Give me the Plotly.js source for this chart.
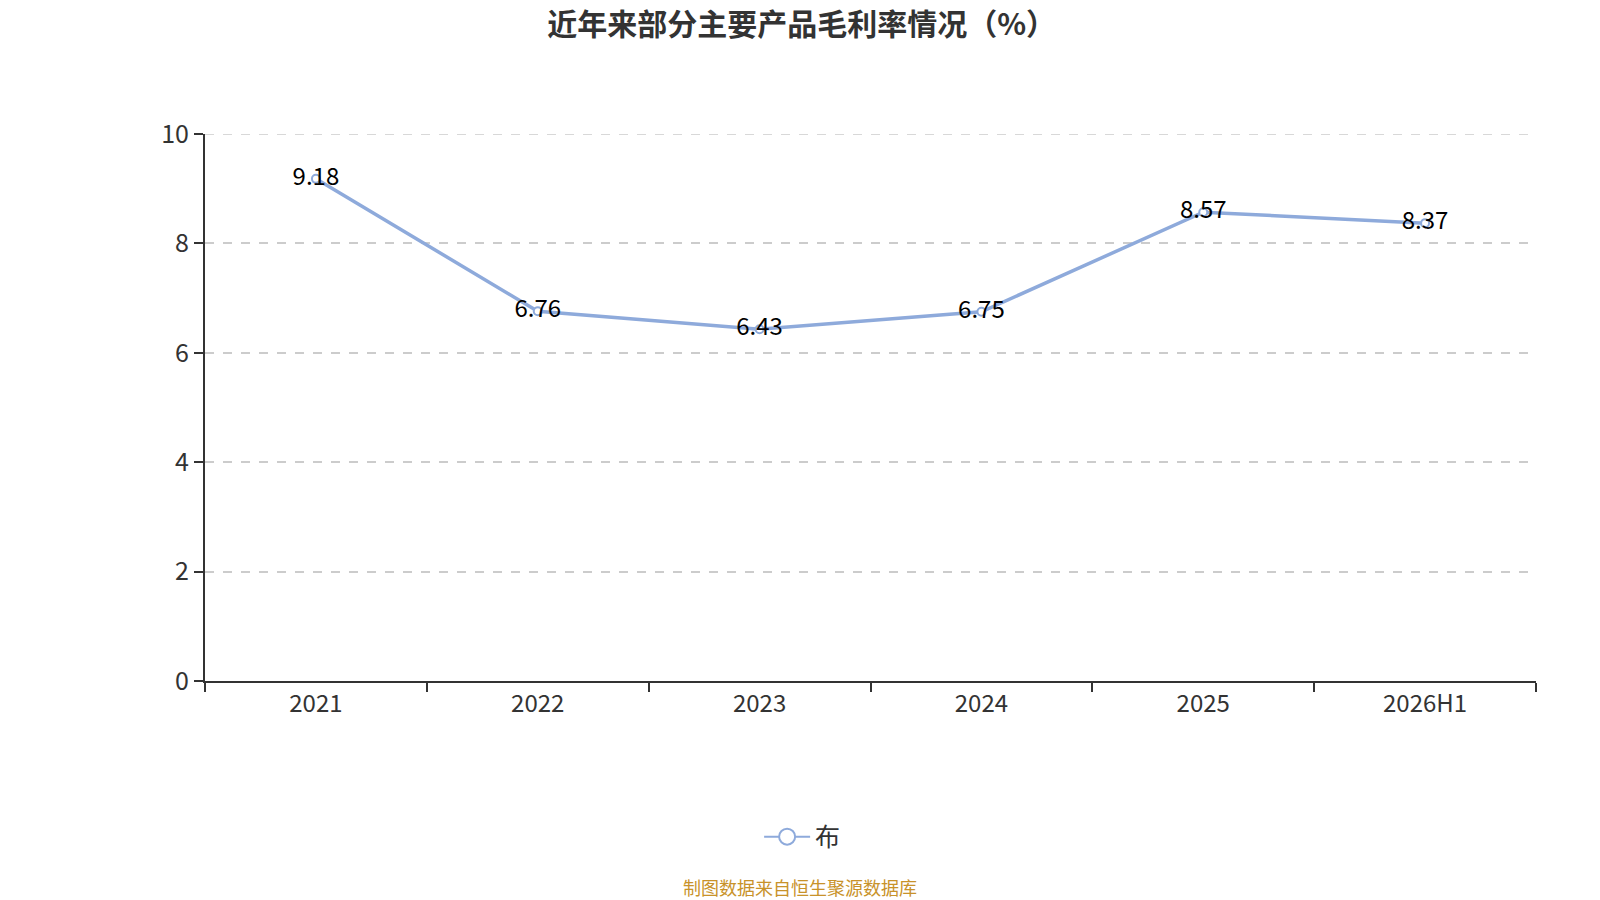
<!DOCTYPE html>
<html>
<head>
<meta charset="utf-8">
<script src="https://cdn.plot.ly/plotly-3.0.1.min.js"></script>
<style>
  html, body { margin: 0; padding: 0; background: #fff; }
  #chart { width: 1600px; height: 900px; }
</style>
</head>
<body>
<div id="chart"></div>
<script>
// 数据
const periods = ['2021', '2022', '2023', '2024', '2025', '2026H1'];
const marginRates = [9.18, 6.76, 6.43, 6.75, 8.57, 8.37];
const seriesName = '布';
const yTicks = [0, 2, 4, 6, 8, 10];

const lineColor = '#8eaadb';
const baseFont = 'Noto Sans CJK SC, Noto Sans, sans-serif';

// 主折线（图例由下面的空 trace 负责，显示大一点的空心圆）
const trace = {
    x: periods,
    y: marginRates,
    type: 'scatter',
    mode: 'lines+markers+text',
    name: seriesName,
    showlegend: false,
    text: marginRates.map(v => v.toFixed(2)),
    textposition: 'middle center',
    textfont: { family: baseFont, size: 24, color: '#000' },
    cliponaxis: false,
    line: { color: lineColor, width: 3.5 },
    marker: {
        size: 8,
        color: '#fff',
        line: { color: lineColor, width: 2 }
    },
    hoverinfo: 'x+y'
};

const legendTrace = {
    x: [null],
    y: [null],
    type: 'scatter',
    mode: 'lines+markers',
    name: seriesName,
    line: { color: lineColor, width: 2 },
    marker: {
        size: 16,
        color: '#fff',
        line: { color: lineColor, width: 2 }
    },
    hoverinfo: 'skip'
};

const layout = {
    width: 1600,
    height: 900,
    paper_bgcolor: '#fff',
    plot_bgcolor: '#fff',
    font: { family: baseFont, color: '#333' },
    margin: { t: 134, r: 64, l: 205, b: 219 },
    showlegend: true,
    legend: {
        orientation: 'h',
        x: 0.449,
        xanchor: 'center',
        y: -0.285,
        yanchor: 'middle',
        font: { family: baseFont, size: 25, color: '#333' },
        itemsizing: 'trace',
        itemwidth: 46
    },
    title: {
        text: '<b>近年来部分主要产品毛利率情况（%）</b>',
        font: { family: baseFont, size: 30, color: '#333' },
        x: 0.501,
        xanchor: 'center',
        y: 0.9725,
        yanchor: 'middle'
    },
    xaxis: {
        type: 'category',
        range: [-0.5, periods.length - 0.5],
        tickson: 'boundaries',
        ticks: 'outside',
        ticklen: 9,
        tickwidth: 2,
        tickcolor: '#333',
        showline: true,
        linecolor: '#333',
        linewidth: 2,
        showgrid: false,
        zeroline: false,
        tickfont: { family: baseFont, size: 24, color: '#333' },
        fixedrange: true
    },
    yaxis: {
        range: [0, 10],
        tickvals: yTicks,
        ticks: 'outside',
        ticklen: 9,
        tickwidth: 2,
        tickcolor: '#333',
        showline: true,
        linecolor: '#333',
        linewidth: 2,
        showgrid: true,
        gridcolor: '#cccccc',
        gridwidth: 1.5,
        griddash: 'dash',
        zeroline: false,
        tickfont: { family: baseFont, size: 25, color: '#333' },
        fixedrange: true
    },
    // 顶部 10 的网格线（Plotly 在边缘不画）
    shapes: [{
        type: 'line',
        xref: 'paper',
        yref: 'y',
        x0: 0,
        x1: 1,
        y0: yTicks[yTicks.length - 1],
        y1: yTicks[yTicks.length - 1],
        line: { color: '#cccccc', width: 1.5, dash: 'dash' },
        layer: 'below'
    }],
    annotations: [{
        text: '制图数据来自恒生聚源数据库',
        xref: 'paper',
        yref: 'paper',
        x: 0.447,
        y: -0.376,
        xanchor: 'center',
        yanchor: 'middle',
        showarrow: false,
        font: { family: baseFont, size: 18, color: '#c8922a' }
    }]
};

Plotly.newPlot('chart', [trace, legendTrace], layout, { displayModeBar: false, responsive: false });
</script>
</body>
</html>
